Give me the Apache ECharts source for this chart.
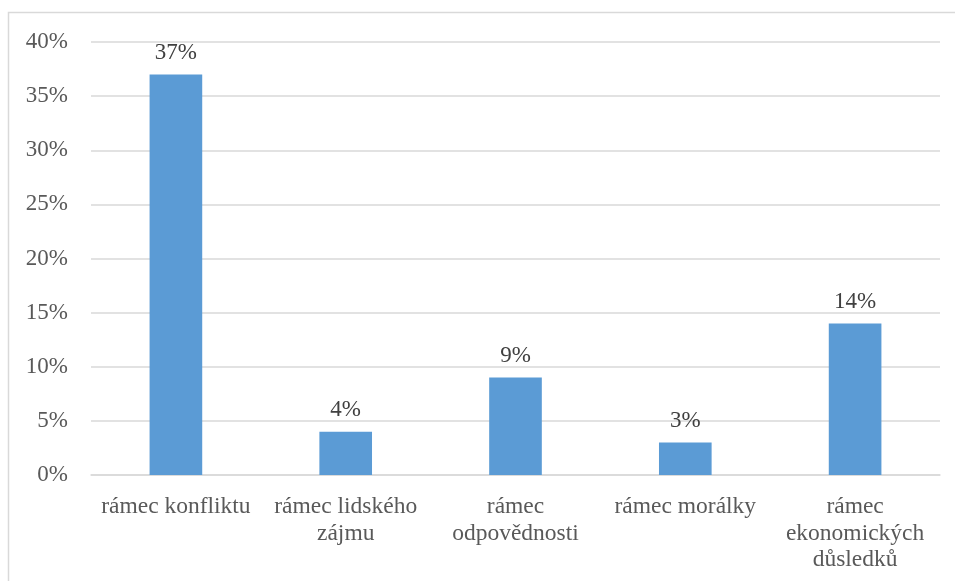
<!DOCTYPE html>
<html>
<head>
<meta charset="utf-8">
<script src="https://cdn.jsdelivr.net/npm/echarts@6/dist/echarts.min.js"></script>
<style>
  html, body { margin: 0; padding: 0; background: #fff; }
  #chart { width: 955px; height: 581px; }
</style>
</head>
<body>
<div id="chart"></div>
<script>
// Framing categories (line breaks as laid out under the axis)
const categories = [
  'rámec konfliktu',
  'rámec lidského\nzájmu',
  'rámec\nodpovědnosti',
  'rámec morálky',
  'rámec\nekonomických\ndůsledků'
];
// Share of articles, percent
const shares = [37, 4, 9, 3, 14];
const yTicks = { min: 0, max: 40, step: 5 };

const FONT = '"Liberation Serif", "Times New Roman", serif';
const TEXT = '#595959';
const GRID = '#d9d9d9';

const chart = echarts.init(document.getElementById('chart'), null, { renderer: 'canvas' });
chart.setOption({
  animation: false,
  backgroundColor: '#fff',
  graphic: [{
    type: 'rect',
    shape: { x: 8.5, y: 12.5, width: 960, height: 600 },
    style: { fill: 'none', stroke: GRID, lineWidth: 1.5 },
    silent: true
  }],
  grid: { left: 91, right: 15, top: 42, bottom: 106, containLabel: false },
  xAxis: {
    type: 'category',
    data: categories,
    axisLine: { show: true, lineStyle: { color: GRID, width: 1.5 } },
    axisTick: { show: false },
    axisLabel: {
      color: TEXT, fontFamily: FONT, fontSize: 23.5, lineHeight: 26.5,
      margin: 19, interval: 0
    }
  },
  yAxis: {
    type: 'value',
    min: yTicks.min, max: yTicks.max, interval: yTicks.step,
    axisLine: { show: false },
    axisTick: { show: false },
    splitLine: { lineStyle: { color: GRID, width: 1.5 } },
    axisLabel: {
      color: TEXT, fontFamily: FONT, fontSize: 23, margin: 23,
      formatter: v => v + '%'
    }
  },
  series: [{
    type: 'bar',
    data: shares,
    barWidth: '31%',
    itemStyle: { color: '#5b9bd5' },
    label: {
      show: true, position: 'top', distance: 10,
      color: '#404040', fontFamily: FONT, fontSize: 23,
      formatter: p => p.value + '%'
    }
  }]
});
</script>
</body>
</html>
